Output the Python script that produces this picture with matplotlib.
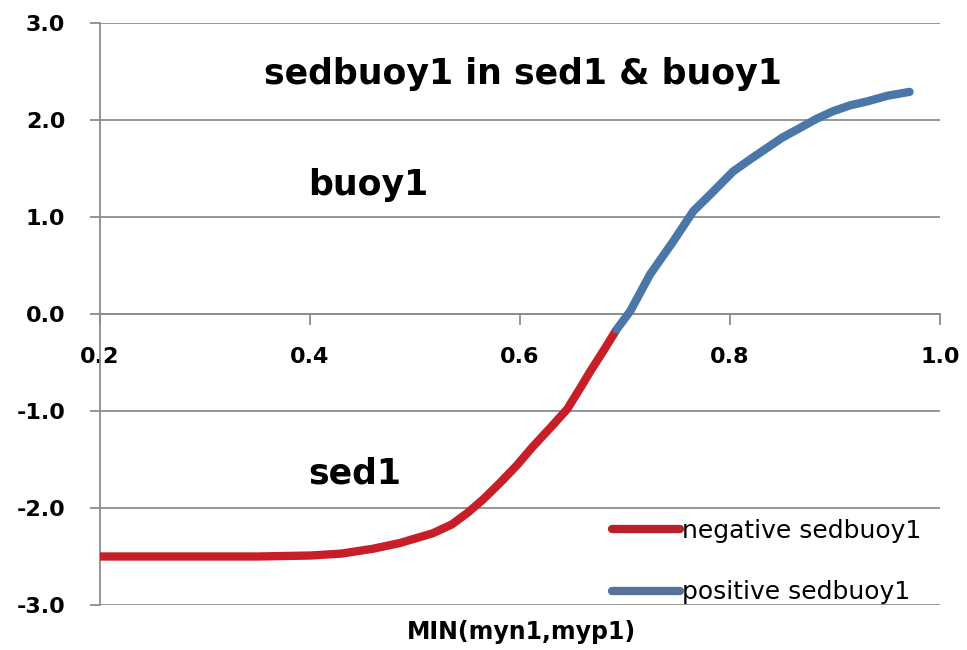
import matplotlib
matplotlib.use("Agg")
import matplotlib.pyplot as plt
from matplotlib.lines import Line2D
from matplotlib.ticker import FormatStrFormatter

plt.rcParams['font.family'] = ['DejaVu Sans']

# Data
neg_x = [0.20, 0.25, 0.30, 0.35, 0.40, 0.43, 0.46, 0.486, 0.517, 0.535, 0.55, 0.565, 0.581, 0.597,
         0.612, 0.63, 0.645, 0.657, 0.667, 0.68, 0.692]
neg_y = [-2.50, -2.50, -2.50, -2.50, -2.49, -2.47, -2.42, -2.36, -2.26, -2.17, -2.05, -1.91, -1.74,
         -1.56, -1.37, -1.16, -0.98, -0.77, -0.59, -0.37, -0.16]
pos_x = [0.692, 0.705, 0.724, 0.746, 0.765, 0.781, 0.803, 0.82, 0.835, 0.85, 0.867, 0.882, 0.898,
         0.914, 0.930, 0.95, 0.971]
pos_y = [-0.16, 0.03, 0.41, 0.75, 1.06, 1.23, 1.47, 1.60, 1.71, 1.82, 1.92, 2.01, 2.09,
         2.15, 2.19, 2.25, 2.29]

x_ticks = [0.2, 0.4, 0.6, 0.8, 1.0]
y_ticks = [-3.0, -2.0, -1.0, 0.0, 1.0, 2.0, 3.0]

title = "sedbuoy1 in sed1 & buoy1"
xlabel = "MIN(myn1,myp1)"
labels = ["negative sedbuoy1", "positive sedbuoy1"]

red = "#C81E28"
blue = "#4A77A8"
grid_c = "#8C8C8C"

fig = plt.figure(figsize=(9.67, 6.5), dpi=100)
ax = fig.add_axes([100/967, 45/650, 840/967, 582/650])

ax.set_xlim(0.2, 1.0)
ax.set_ylim(-3.0, 3.0)

for y in y_ticks:
    ax.axhline(y, color=grid_c, lw=1.3, zorder=1)

ax.plot(neg_x, neg_y, color=red, lw=6, solid_capstyle='butt', solid_joinstyle='round', zorder=3)
ax.plot(pos_x, pos_y, color=blue, lw=6, solid_capstyle='round', solid_joinstyle='round', zorder=3)

for s in ['top', 'right']:
    ax.spines[s].set_visible(False)
ax.spines['left'].set_color(grid_c)
ax.spines['left'].set_linewidth(1.3)
ax.spines['bottom'].set_position(('data', 0))
ax.spines['bottom'].set_color(grid_c)
ax.spines['bottom'].set_linewidth(1.3)

ax.set_xticks(x_ticks)
ax.set_yticks(y_ticks)
ax.xaxis.set_major_formatter(FormatStrFormatter('%.1f'))
ax.yaxis.set_major_formatter(FormatStrFormatter('%.1f'))
ax.tick_params(axis='x', direction='out', length=8, width=1.3, color=grid_c, pad=16,
               labelsize=16)
ax.tick_params(axis='y', direction='out', length=7, width=1.3, color=grid_c, pad=18,
               labelsize=16)
for lab in ax.get_xticklabels() + ax.get_yticklabels():
    lab.set_fontweight('bold')

ax.text(0.603, 2.37, title, ha='center', va='baseline', fontsize=25, fontweight='bold')
ax.text(0.455, 1.23, "buoy1", ha='center', va='baseline', fontsize=25, fontweight='bold')
ax.text(0.443, -1.75, "sed1", ha='center', va='baseline', fontsize=25, fontweight='bold')

fig.text(521/967, 1 - 632/650, xlabel, ha='center', va='center', fontsize=17, fontweight='bold')

handles = [Line2D([], [], color="#B8202C", lw=6, solid_capstyle='round'),
           Line2D([], [], color="#557399", lw=6, solid_capstyle='round')]
leg = fig.legend(handles=handles, labels=labels, loc='upper left',
                 bbox_to_anchor=(612/967, 1 - 519/650), bbox_transform=fig.transFigure,
                 frameon=False, fontsize=18, borderpad=0, borderaxespad=0,
                 handlelength=2.7, handletextpad=0.1, labelspacing=1.5)

fig.savefig("out.png", dpi=100, facecolor='white')
